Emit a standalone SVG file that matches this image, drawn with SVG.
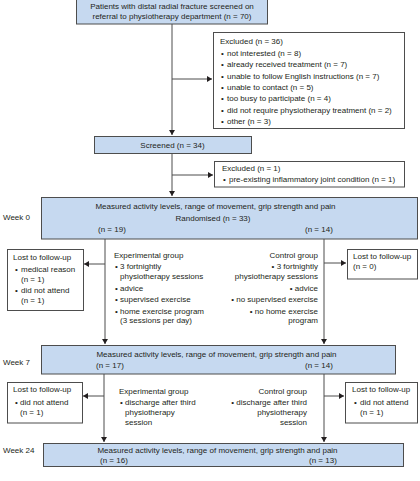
<svg xmlns="http://www.w3.org/2000/svg" width="420" height="481" viewBox="0 0 420 481">
<style>
text{font-family:"Liberation Sans",Arial,sans-serif;font-size:8px;fill:#231f20}
.m{text-anchor:middle}
.e{text-anchor:end}
.b{fill:#c6d9f0;stroke:#4d4d4d;stroke-width:1}
.w{fill:#ffffff;stroke:#4d4d4d;stroke-width:1}
.c{stroke:#4d4d4d;stroke-width:1;fill:none}
</style>
<defs>
<marker id="ah" markerWidth="6" markerHeight="6" refX="5" refY="3" orient="auto" markerUnits="userSpaceOnUse">
<path d="M0,0 L5,3 L0,6 Z" fill="#231f20"/>
</marker>
</defs>
<g id="connectors">
<path class="c" d="M172,24 V135" marker-end="url(#ah)"/>
<path class="c" d="M172,79 H212" marker-end="url(#ah)"/>
<path class="c" d="M172,153 V196" marker-end="url(#ah)"/>
<path class="c" d="M172,175 H213" marker-end="url(#ah)"/>
<path class="c" d="M105,239 V344" marker-end="url(#ah)"/>
<path class="c" d="M105,264 H84" marker-end="url(#ah)"/>
<path class="c" d="M324,239 V344" marker-end="url(#ah)"/>
<path class="c" d="M324,263 H346" marker-end="url(#ah)"/>
<path class="c" d="M104,374 V442" marker-end="url(#ah)"/>
<path class="c" d="M104,396 H83" marker-end="url(#ah)"/>
<path class="c" d="M324,374 V442" marker-end="url(#ah)"/>
<path class="c" d="M324,396 H344" marker-end="url(#ah)"/>
</g>
<g id="labels">
<text x="3" y="220">Week 0</text>
<text x="3" y="365">Week 7</text>
<text x="3" y="453">Week 24</text>
</g>
<g id="patients">
<rect class="b" x="76.5" y="-0.5" width="191" height="24.5"/>
<text class="m" x="172" y="9">Patients with distal radial fracture screened on</text>
<text class="m" x="172" y="19">referral to physiotherapy department (n = 70)</text>
</g>
<g id="excluded1">
<rect class="w" x="213.5" y="32.5" width="191" height="96"/>
<text x="220" y="44">Excluded (n = 36)</text>
<text x="221" y="55.5">•</text><text x="227" y="55.5">not interested (n = 8)</text>
<text x="221" y="67">•</text><text x="227" y="67">already received treatment (n = 7)</text>
<text x="221" y="78.5">•</text><text x="227" y="78.5">unable to follow English instructions (n = 7)</text>
<text x="221" y="90">•</text><text x="227" y="90">unable to contact (n = 5)</text>
<text x="221" y="101">•</text><text x="227" y="101">too busy to participate (n = 4)</text>
<text x="221" y="112.5">•</text><text x="227" y="112.5">did not require physiotherapy treatment (n = 2)</text>
<text x="221" y="124">•</text><text x="227" y="124">other (n = 3)</text>
</g>
<g id="screened">
<rect class="b" x="94.5" y="136.5" width="157" height="17"/>
<text class="m" x="172.5" y="148">Screened (n = 34)</text>
</g>
<g id="excluded2">
<rect class="w" x="214.5" y="161.5" width="190" height="25.5"/>
<text x="222" y="171">Excluded (n = 1)</text>
<text x="223" y="182">•</text><text x="229" y="182">pre-existing inflammatory joint condition (n = 1)</text>
</g>
<g id="week0">
<rect class="b" x="41.5" y="197.5" width="376" height="41.5"/>
<text class="m" x="215.5" y="209">Measured activity levels, range of movement, grip strength and pain</text>
<text class="m" x="213" y="221">Randomised (n = 33)</text>
<text x="98" y="232">(n = 19)</text>
<text x="305" y="232">(n = 14)</text>
</g>
<g id="lost0e">
<rect class="w" x="7.5" y="249.5" width="76" height="61"/>
<text x="13" y="260">Lost to follow-up</text>
<text x="15" y="272">•</text><text x="21" y="272">medical reason</text>
<text x="21" y="282">(n = 1)</text>
<text x="15" y="293">•</text><text x="21" y="293">did not attend</text>
<text x="21" y="303">(n = 1)</text>
</g>
<g id="exp0">
<text x="114" y="258">Experimental group</text>
<text x="115" y="269">•</text><text x="120" y="269">3 fortnightly</text>
<text x="120" y="279">physiotherapy sessions</text>
<text x="115" y="290.5">•</text><text x="120" y="290.5">advice</text>
<text x="115" y="302">•</text><text x="120" y="302">supervised exercise</text>
<text x="115" y="313.5">•</text><text x="120" y="313.5">home exercise program</text>
<text x="120" y="323">(3 sessions per day)</text>
</g>
<g id="ctrl0">
<text class="e" x="318" y="258">Control group</text>
<text class="e" x="318" y="269">• 3 fortnightly</text>
<text class="e" x="318" y="279">physiotherapy sessions</text>
<text class="e" x="318" y="290.5">• advice</text>
<text class="e" x="318" y="302">• no supervised exercise</text>
<text class="e" x="318" y="313.5">• no home exercise</text>
<text class="e" x="318" y="323">program</text>
</g>
<g id="lost0c">
<rect class="w" x="347.5" y="249.5" width="70" height="29.5"/>
<text x="353" y="259">Lost to follow-up</text>
<text x="353" y="269">(n = 0)</text>
</g>
<g id="week7">
<rect class="b" x="41.5" y="345.5" width="354" height="28.5"/>
<text class="m" x="216.5" y="357">Measured activity levels, range of movement, grip strength and pain</text>
<text x="96" y="368">(n = 17)</text>
<text x="305" y="368">(n = 14)</text>
</g>
<g id="lost7e">
<rect class="w" x="7.5" y="382.5" width="75" height="40.5"/>
<text x="13" y="392">Lost to follow-up</text>
<text x="15" y="405">•</text><text x="20" y="405">did not attend</text>
<text x="20" y="415">(n = 1)</text>
</g>
<g id="exp7">
<text x="119" y="394">Experimental group</text>
<text x="120" y="405">•</text><text x="125" y="405">discharge after third</text>
<text x="125" y="415">physiotherapy</text>
<text x="125" y="424.5">session</text>
</g>
<g id="ctrl7">
<text class="e" x="307" y="394">Control group</text>
<text class="e" x="307" y="405">• discharge after third</text>
<text class="e" x="307" y="415">physiotherapy</text>
<text class="e" x="307" y="424.5">session</text>
</g>
<g id="lost7c">
<rect class="w" x="345.5" y="382.5" width="72" height="40.5"/>
<text x="352" y="392">Lost to follow-up</text>
<text x="354" y="405">•</text><text x="360" y="405">did not attend</text>
<text x="360" y="415">(n = 1)</text>
</g>
<g id="week24">
<rect class="b" x="43.5" y="443.5" width="360" height="23"/>
<text class="m" x="217.5" y="453">Measured activity levels, range of movement, grip strength and pain</text>
<text x="100" y="463">(n = 16)</text>
<text x="309" y="463">(n = 13)</text>
</g>
</svg>
